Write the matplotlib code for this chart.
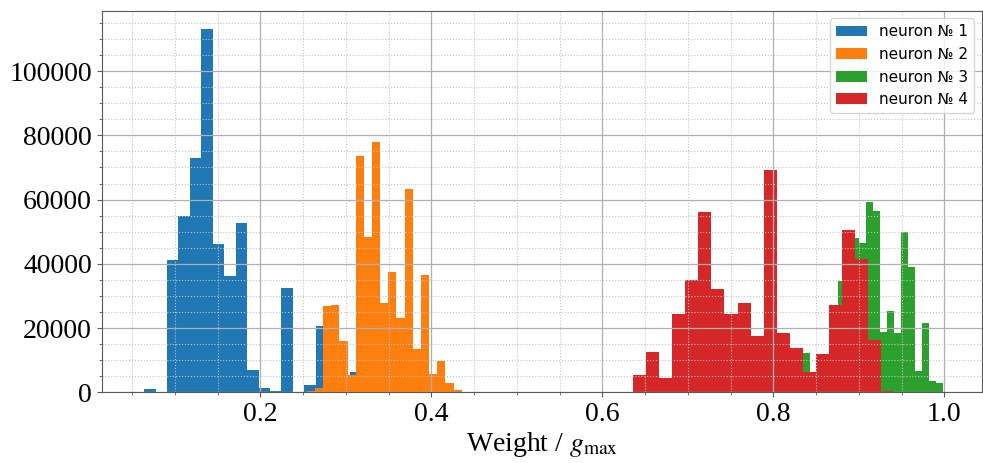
import numpy as np
import matplotlib
matplotlib.use("Agg")
import matplotlib.pyplot as plt
from matplotlib.ticker import MultipleLocator

# histogram counts, 20 bins per neuron
labels = ["neuron № 1", "neuron № 2", "neuron № 3", "neuron № 4"]
colors = ["#1f77b4", "#ff7f0e", "#2ca02c", "#d62728"]

blue_range = (0.0638, 0.3317)
blue_counts = [900, 0, 41200, 55000, 72900, 113200, 46300, 36200, 52600, 6900,
               1200, 500, 32500, 0, 2300, 20700, 12000, 3000, 6200, 2000]

orange_range = (0.2541, 0.4449)
orange_counts = [300, 1200, 27000, 27100, 16000, 5400, 73700, 48300, 77900, 27700,
                 37600, 23100, 63200, 13600, 36400, 5600, 9800, 3000, 700, 100]

green_range = (0.8344, 0.9980)
green_counts = [12100, 2000, 4000, 8000, 15000, 34800, 40000, 47900, 46600, 59400,
                56300, 18900, 25300, 18400, 50000, 38900, 6600, 21500, 3500, 3000]

red_range = (0.6357, 0.9415)
red_counts = [5400, 12600, 4600, 24500, 35100, 56100, 32100, 24500, 27900, 17600,
              69300, 18500, 13800, 6400, 11900, 27200, 50600, 41500, 16300, 500]

ranges = [blue_range, orange_range, green_range, red_range]
counts = [blue_counts, orange_counts, green_counts, red_counts]

plt.rcParams['font.family'] = 'serif'
plt.rcParams['font.serif'] = ['Liberation Serif', 'DejaVu Serif']
plt.rcParams['mathtext.fontset'] = 'stix'

fig = plt.figure(figsize=(9.83, 4.63), dpi=100)
ax = fig.add_axes([0.1035, 0.1527, 0.8955, 0.8246])

for rng, cnt, col, lab in zip(ranges, counts, colors, labels):
    edges = np.linspace(rng[0], rng[1], len(cnt) + 1)
    centers = (edges[:-1] + edges[1:]) / 2
    ax.hist(centers, bins=edges, weights=cnt, histtype='stepfilled',
            color=col, label=lab)

ax.set_xlim(0.0143, 1.044)
ax.xaxis.set_major_locator(MultipleLocator(0.2))
ax.xaxis.set_minor_locator(MultipleLocator(0.05))
ax.yaxis.set_major_locator(MultipleLocator(20000))
ax.yaxis.set_minor_locator(MultipleLocator(5000))

ax.grid(which='major', color='#b0b0b0', linewidth=0.9)
ax.grid(which='minor', color='#c4c4c4', linestyle=':', linewidth=0.8)

for s in ax.spines.values():
    s.set_color('0.35')
ax.tick_params(which='both', colors='0.35', labelcolor='black')
ax.tick_params(which='major', labelsize=20)

ax.set_xlabel(r'Weight / $g_{\max}$', fontsize=20, labelpad=2)

ax.legend(loc='upper right', prop={'family': 'DejaVu Sans', 'size': 11})

plt.savefig("out.png", dpi=100)
